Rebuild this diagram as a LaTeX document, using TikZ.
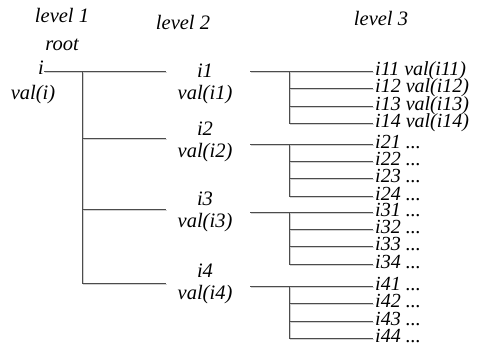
\documentclass[tikz,border=0pt]{standalone}
\usepackage{fontspec}
\setmainfont{Liberation Serif}
\begin{document}
\begin{tikzpicture}[x=1pt,y=-1pt,
  lbl/.style={inner sep=0pt,font=\fontsize{20.5}{20.5}\selectfont\itshape},
  lbltwo/.style={lbl,anchor=base},
  lblthree/.style={inner sep=0pt,anchor=base west,text height=11pt,text depth=2pt,
    font=\fontsize{20}{20}\selectfont\itshape},
  conn/.style={draw=black!70,line width=0.9pt,
    preaction={draw=black!18,line width=0.9pt,transform canvas={shift={(1.2pt,-1.3pt)}}}}]
\useasboundingbox (0,0) rectangle (479,351);
% headings
\node[lbl] (lvla) at (62,15) {level 1};
\node[lbl] (lvlb) at (183,22) {level 2};
\node[lbl] (lvlc) at (381,18) {level 3};
\node[lbl] (rootlbl) at (62,45) {root};
% level 1
\node[lbltwo,anchor=base east] (n0) at (44,74) {i};
\node[lbltwo] (v0) at (33,99) {val(i)};
\coordinate (j0) at (82,71);
\coordinate (jb) at (82,283);
% level 2
\node[lbltwo] (n1) at (205,77) {i1};
\node[lbltwo] (v1) at (205,99) {val(i1)};
\node[lbltwo] (n2) at (205,135) {i2};
\node[lbltwo] (v2) at (205,157) {val(i2)};
\node[lbltwo] (n3) at (205,205) {i3};
\node[lbltwo] (v3) at (205,227) {val(i3)};
\node[lbltwo] (n4) at (205,277) {i4};
\node[lbltwo] (v4) at (205,299) {val(i4)};
\coordinate (e1) at (166,71);
\coordinate (e2) at (166,138);
\coordinate (e3) at (166,209);
\coordinate (e4) at (166,283);
\coordinate (b2) at (82,138);
\coordinate (b3) at (82,209);
\draw[conn] (n0.base east |- j0) -- (e1);
\draw[conn] (j0) -- (jb);
\draw[conn] (b2) -- (e2);
\draw[conn] (b3) -- (e3);
\draw[conn] (jb) -- (e4);
% level 3
\foreach \g/\ya/\yb/\yc/\yd/\ta/\tb/\tc/\td in {
  1/71/88/106/123/{i11 val(i11)}/{i12 val(i12)}/{i13 val(i13)}/{i14 val(i14)},
  2/144/161/178/196/{i21 ...}/{i22 ...}/{i23 ...}/{i24 ...},
  3/212/229/246/264/{i31 ...}/{i32 ...}/{i33 ...}/{i34 ...},
  4/286/303/321/338/{i41 ...}/{i42 ...}/{i43 ...}/{i44 ...}}{
  \coordinate (s\g) at (250,\ya);
  \coordinate (ta\g) at (289,\ya);
  \coordinate (tb\g) at (289,\yb);
  \coordinate (tc\g) at (289,\yc);
  \coordinate (td\g) at (289,\yd);
  \node[lblthree] (ca\g) at (375,\ya+4) {\ta};
  \node[lblthree] (cb\g) at (375,\yb+4) {\tb};
  \node[lblthree] (cc\g) at (375,\yc+4) {\tc};
  \node[lblthree] (cd\g) at (375,\yd+4) {\td};
  \draw[conn] (s\g) -- ([xshift=-2pt]ca\g.base west |- s\g);
  \draw[conn] (ta\g) -- (td\g);
  \draw[conn] (tb\g) -- ([xshift=-2pt]cb\g.base west |- tb\g);
  \draw[conn] (tc\g) -- ([xshift=-2pt]cc\g.base west |- tc\g);
  \draw[conn] (td\g) -- ([xshift=-2pt]cd\g.base west |- td\g);
}
\end{tikzpicture}
\end{document}
